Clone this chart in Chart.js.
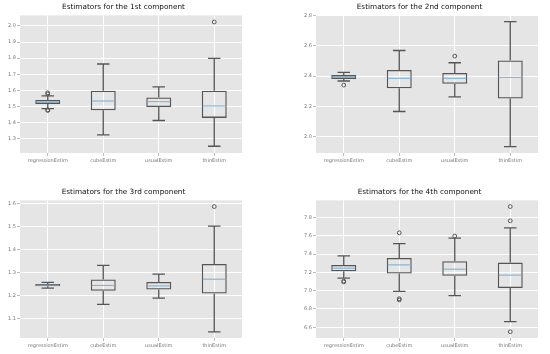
<!DOCTYPE html>
<html>
<head>
<meta charset="utf-8">
<script src="https://cdn.jsdelivr.net/npm/chart.js@4"></script>
<style>
  body { margin: 0; background: #fff; width: 550px; height: 354px; position: relative; overflow: hidden; }
  .panel { position: absolute; width: 247px; height: 166px; }
</style>
</head>
<body>
<div class="panel" style="left:0;top:0"><canvas id="comp1"></canvas></div>
<div class="panel" style="left:296px;top:0"><canvas id="comp2"></canvas></div>
<div class="panel" style="left:0;top:185px"><canvas id="comp3"></canvas></div>
<div class="panel" style="left:296px;top:185px"><canvas id="comp4"></canvas></div>
<script>
/* ====== DATA ====== */
const categories = ['regressionEstim', 'cubeEstim', 'usualEstim', 'thinEstim'];

// 1st component
const lo1  = [1.487, 1.324, 1.413, 1.253];
const q1_1 = [1.516, 1.476, 1.497, 1.429];
const med1 = [1.528, 1.534, 1.530, 1.503];
const q3_1 = [1.540, 1.598, 1.556, 1.598];
const hi1  = [1.566, 1.764, 1.622, 1.799];
const out1 = [[1.585, 1.578, 1.479, 1.475], [], [], [2.025]];
const ticks1 = [1.3, 1.4, 1.5, 1.6, 1.7, 1.8, 1.9, 2.0];

// 2nd component
const lo2  = [2.367, 2.165, 2.262, 1.932];
const q1_2 = [2.381, 2.319, 2.349, 2.251];
const med2 = [2.393, 2.385, 2.385, 2.391];
const q3_2 = [2.406, 2.440, 2.420, 2.503];
const hi2  = [2.424, 2.569, 2.488, 2.760];
const out2 = [[2.340], [], [2.532], []];
const ticks2 = [2.0, 2.2, 2.4, 2.6, 2.8];

// 3rd component
const lo3  = [1.232, 1.162, 1.189, 1.043];
const q1_3 = [1.240, 1.221, 1.226, 1.209];
const med3 = [1.245, 1.244, 1.242, 1.271];
const q3_3 = [1.250, 1.270, 1.259, 1.337];
const hi3  = [1.257, 1.331, 1.293, 1.501];
const out3 = [[], [], [], [1.586]];
const ticks3 = [1.1, 1.2, 1.3, 1.4, 1.5, 1.6];

// 4th component
const lo4  = [7.137, 6.992, 6.945, 6.662];
const q1_4 = [7.213, 7.188, 7.162, 7.028];
const med4 = [7.246, 7.282, 7.235, 7.170];
const q3_4 = [7.282, 7.358, 7.322, 7.307];
const hi4  = [7.380, 7.514, 7.575, 7.688];
const out4 = [[7.104, 7.095], [7.633, 6.912, 6.898], [7.597], [7.920, 7.764, 6.550]];
const ticks4 = [6.6, 6.8, 7.0, 7.2, 7.4, 7.6, 7.8];

/* ====== STYLE ====== */
const FONT = 'DejaVu Sans';
const LINE = '#555';
const MEDIAN = '#7eb2da';
const TICK = '#777';

/**
 * Plot background, whiskers, caps and medians
 */
const boxParts = {
  id: 'boxParts',
  beforeDraw(chart) {
    const a = chart.chartArea, ctx = chart.ctx;
    ctx.save();
    ctx.fillStyle = '#e5e5e5';
    ctx.fillRect(a.left, a.top, a.right - a.left, a.bottom - a.top);
    ctx.restore();
  },
  afterDatasetsDraw(chart, args, opts) {
    const ctx = chart.ctx;
    const x = chart.scales.x, y = chart.scales.y;
    const bars = chart.getDatasetMeta(0).data;
    ctx.save();
    opts.med.forEach((m, i) => {
      const cx = x.getPixelForValue(i);
      const half = bars[i].width / 2;
      const cap = half / 2;
      // whiskers + caps
      ctx.strokeStyle = LINE;
      ctx.lineWidth = 1.3;
      ctx.beginPath();
      ctx.moveTo(cx, y.getPixelForValue(opts.q3[i]));
      ctx.lineTo(cx, y.getPixelForValue(opts.hi[i]));
      ctx.moveTo(cx, y.getPixelForValue(opts.q1[i]));
      ctx.lineTo(cx, y.getPixelForValue(opts.lo[i]));
      ctx.moveTo(cx - cap, y.getPixelForValue(opts.hi[i]));
      ctx.lineTo(cx + cap, y.getPixelForValue(opts.hi[i]));
      ctx.moveTo(cx - cap, y.getPixelForValue(opts.lo[i]));
      ctx.lineTo(cx + cap, y.getPixelForValue(opts.lo[i]));
      ctx.stroke();
      // median
      ctx.strokeStyle = MEDIAN;
      ctx.lineWidth = 1.1;
      ctx.beginPath();
      ctx.moveTo(cx - half + 1, y.getPixelForValue(m));
      ctx.lineTo(cx + half - 1, y.getPixelForValue(m));
      ctx.stroke();
    });
    ctx.restore();
  }
};

/**
 * Build one boxplot panel
 */
function makeBoxChart(id, title, lo, q1, med, q3, hi, outliers, tickVals, yMin, yMax) {
  const ctx = document.getElementById(id);
  const outPoints = [];
  outliers.forEach((list, i) => list.forEach(v => outPoints.push({ x: categories[i], y: v })));

  return new Chart(ctx.getContext('2d'), {
    type: 'bar',
    data: {
      labels: categories,
      datasets: [{
        label: 'box',
        data: q1.map((v, i) => [v, q3[i]]),
        backgroundColor: 'rgba(0,0,0,0)',
        borderColor: LINE,
        borderWidth: 1.3,
        borderSkipped: false,
        categoryPercentage: 1,
        barPercentage: 0.45
      }, {
        type: 'line',
        label: 'outliers',
        data: outPoints,
        showLine: false,
        pointRadius: 1.9,
        pointBorderWidth: 1,
        pointBorderColor: LINE,
        pointBackgroundColor: 'rgba(0,0,0,0)'
      }]
    },
    options: {
      responsive: true,
      maintainAspectRatio: false,
      animation: false,
      layout: { padding: 0 },
      plugins: {
        legend: { display: false },
        tooltip: { enabled: false },
        title: {
          display: true, text: title, color: '#111',
          font: { family: FONT, size: 7.3, weight: 'normal' },
          padding: { top: 3, bottom: 3.6 }
        },
        boxParts: { lo, q1, med, q3, hi }
      },
      scales: {
        x: {
          offset: true,
          grid: { offset: false, color: '#fff', lineWidth: 1, tickLength: 3, tickColor: '#bbb' },
          border: { display: false },
          ticks: { color: TICK, padding: 2, maxRotation: 0, font: { family: FONT, size: 5 } },
          afterFit: s => { s.height = 13; }
        },
        y: {
          min: yMin, max: yMax,
          afterBuildTicks: s => { s.ticks = tickVals.map(v => ({ value: v })); },
          grid: { color: '#fff', lineWidth: 1, tickLength: 3, tickColor: '#bbb' },
          border: { display: false },
          ticks: { color: TICK, padding: 1, font: { family: FONT, size: 5 }, callback: v => v.toFixed(1) },
          afterFit: s => { s.width = 20; }
        }
      }
    },
    plugins: [boxParts]
  });
}

makeBoxChart('comp1', 'Estimators for the 1st component', lo1, q1_1, med1, q3_1, hi1, out1, ticks1, 1.211, 2.066);
makeBoxChart('comp2', 'Estimators for the 2nd component', lo2, q1_2, med2, q3_2, hi2, out2, ticks2, 1.890, 2.802);
makeBoxChart('comp3', 'Estimators for the 3rd component', lo3, q1_3, med3, q3_3, hi3, out3, ticks3, 1.016, 1.613);
makeBoxChart('comp4', 'Estimators for the 4th component', lo4, q1_4, med4, q3_4, hi4, out4, ticks4, 6.482, 7.988);
</script>
</body>
</html>
